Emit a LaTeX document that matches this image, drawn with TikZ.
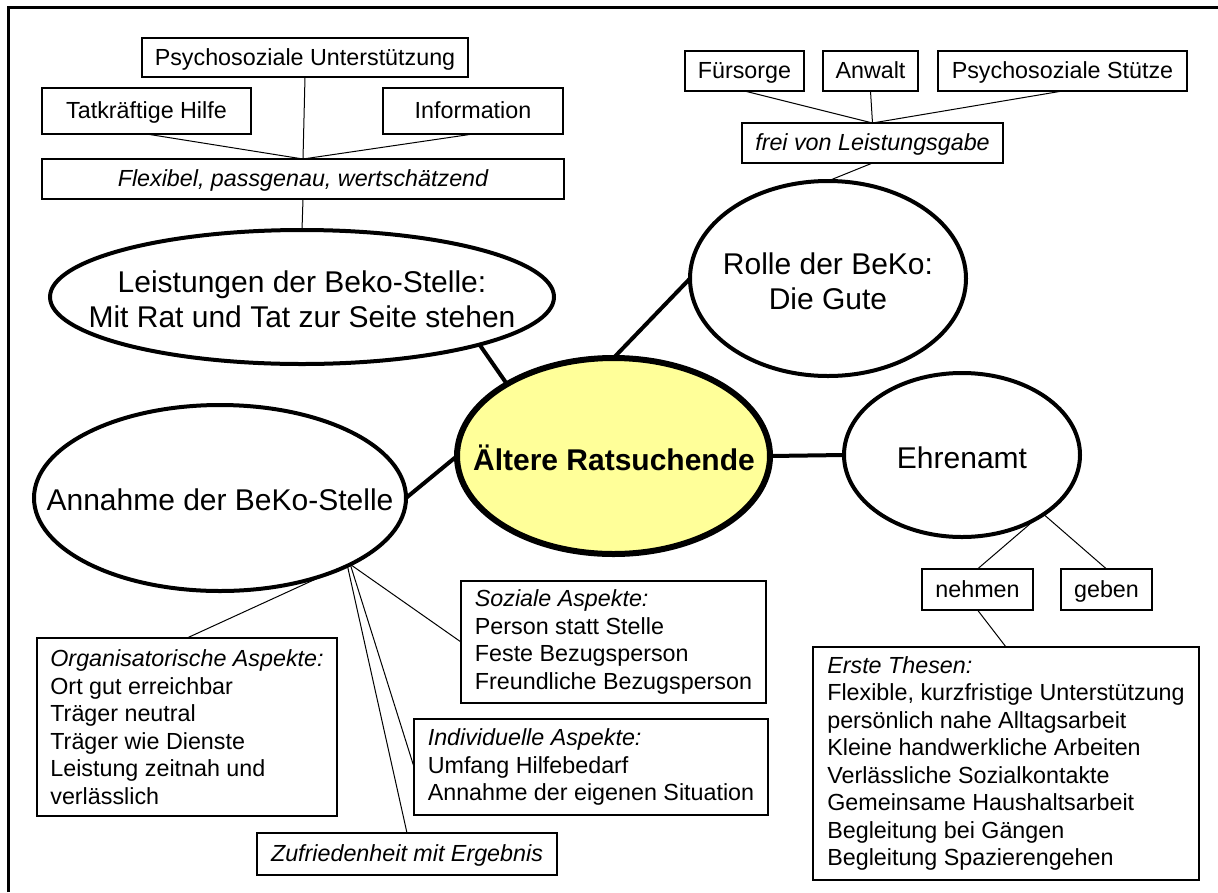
\documentclass[tikz,border=0pt]{standalone}
\usepackage{fontspec}
\setmainfont{Liberation Sans}
\usetikzlibrary{shapes.geometric}
\definecolor{coreyellow}{HTML}{FFFF99}
\newcommand\txtS{\fontsize{23.3pt}{27.5pt}\selectfont}
\newcommand\txtL{\fontsize{30pt}{35pt}\selectfont}
\begin{document}
\begin{tikzpicture}[x=1pt,y=-1pt,
  every node/.style={inner sep=0pt, outer sep=0pt},
  box/.style={draw, line width=1.2pt, font=\txtS, align=left, anchor=north west, fill=white},
  onebox/.style={box, text height=19pt, text depth=4pt},
  ell/.style={ellipse, draw, line width=4pt, fill=white},
  elltext/.style={font=\txtL, align=center},
  thinlink/.style={line width=1pt},
  boldlink/.style={line width=4pt}]
\useasboundingbox (0,0) rectangle (1218,892);
\fill[white] (0,0) rectangle (1218,892);
% open frame: left and top edge
\draw[line width=3pt] (8,892) -- (8,7) -- (1218,7);

% ---------- ellipses ----------
\node[ell, minimum width=504pt, minimum height=134pt] (lei) at (302,297) {};
\node[elltext] (leiT) at (302,299) {Leistungen der Beko-Stelle:\\Mit Rat und Tat zur Seite stehen};
\node[ell, minimum width=276pt, minimum height=195pt] (rol) at (828,278.5) {};
\node[elltext] (rolT) at (828,281) {Rolle der BeKo:\\Die Gute};
\node[ell, line width=6pt, fill=coreyellow, minimum width=313pt, minimum height=196pt] (ctr) at (613.5,456) {};
\node[elltext, font=\txtL\bfseries] (ctrT) at (614,458) {Ältere Ratsuchende};
\node[ell, minimum width=236pt, minimum height=164pt] (ehr) at (962,455) {};
\node[elltext] (ehrT) at (962,458) {Ehrenamt};
\node[ell, minimum width=372pt, minimum height=186pt] (ann) at (220,498) {};
\node[elltext] (annT) at (220,500) {Annahme der BeKo-Stelle};

% ---------- boxes: Leistungen ----------
\node[onebox, minimum width=326pt, minimum height=39pt] (psu) at (142,38) {Psychosoziale Unterstützung};
\node[onebox, minimum width=209pt, minimum height=46pt] (tat) at (42,88) {Tatkräftige Hilfe};
\node[onebox, minimum width=180pt, minimum height=46pt] (inf) at (383,88) {Information};
\node[onebox, minimum width=522pt, minimum height=40pt, font=\txtS\itshape] (frm) at (42,159) {Flexibel, passgenau, wertschätzend};

% ---------- boxes: Rolle ----------
\node[onebox, minimum width=119pt, minimum height=40pt] (fur) at (685,51) {Fürsorge};
\node[onebox, minimum width=95pt, minimum height=40pt] (anw) at (823,51) {Anwalt};
\node[onebox, minimum width=249pt, minimum height=40pt] (pst) at (938,51) {Psychosoziale Stütze};
\node[onebox, minimum width=261pt, minimum height=40pt, font=\txtS\itshape] (fre) at (742,123) {frei von Leistungsgabe};

% ---------- boxes: Ehrenamt ----------
\node[onebox, minimum width=111pt, minimum height=41pt] (neh) at (922,569) {nehmen};
\node[onebox, minimum width=91pt, minimum height=41pt] (geb) at (1061,569) {geben};
\node[box, minimum width=386pt, minimum height=233pt] (ers) at (813,647)
  {\textit{Erste Thesen:}\\Flexible, kurzfristige Unterstützung\\persönlich nahe Alltagsarbeit\\Kleine handwerkliche Arbeiten\\Verlässliche Sozialkontakte\\Gemeinsame Haushaltsarbeit\\Begleitung bei Gängen\\Begleitung Spazierengehen};

% ---------- boxes: Annahme ----------
\node[box, minimum width=300pt, minimum height=178pt] (org) at (37,638)
  {\textit{Organisatorische Aspekte:}\\Ort gut erreichbar\\Träger neutral\\Träger wie Dienste\\Leistung zeitnah und\\verlässlich};
\node[box, minimum width=305pt, minimum height=122pt] (soz) at (461,581)
  {\textit{Soziale Aspekte:}\\Person statt Stelle\\Feste Bezugsperson\\Freundliche Bezugsperson};
\node[box, minimum width=354pt, minimum height=96pt] (ind) at (414,719)
  {\textit{Individuelle Aspekte:}\\Umfang Hilfebedarf\\Annahme der eigenen Situation};
\node[onebox, minimum width=300pt, minimum height=42pt, font=\txtS\itshape] (zuf) at (257,833) {Zufriedenheit mit Ergebnis};

% ---------- thick links to the centre ----------
\draw[boldlink] (lei.-15.5) -- (ctr.146);
\draw[boldlink] (rol.180) -- (ctr.90);
\draw[boldlink] (ctr.0) -- (ehr.180);
\draw[boldlink] (ann.0) -- (ctr.180);

% ---------- thin links ----------
\draw[thinlink] (tat.south) -- (frm.north);
\draw[thinlink] (psu.south) -- (frm.north);
\draw[thinlink] (inf.south) -- (frm.north);
\draw[thinlink] (frm.south) -- (lei.90);

\draw[thinlink] (fur.south) -- (fre.north);
\draw[thinlink] (anw.south) -- (fre.north);
\draw[thinlink] (pst.south) -- (fre.north);
\draw[thinlink] (fre.south) -- (rol.90);

\draw[thinlink] (ehr.-41.4) -- (neh.north);
\draw[thinlink] (ehr.-36) -- (geb.north);
\draw[thinlink] (neh.south) -- (ers.north);

\draw[thinlink] (ann.-36.2) -- (org.north);
\draw[thinlink] (ann.-27) -- (soz.west);
\draw[thinlink] (ann.-27.5) -- (ind.west);
\draw[thinlink] (ann.-28.5) -- (zuf.north);
\end{tikzpicture}
\end{document}
